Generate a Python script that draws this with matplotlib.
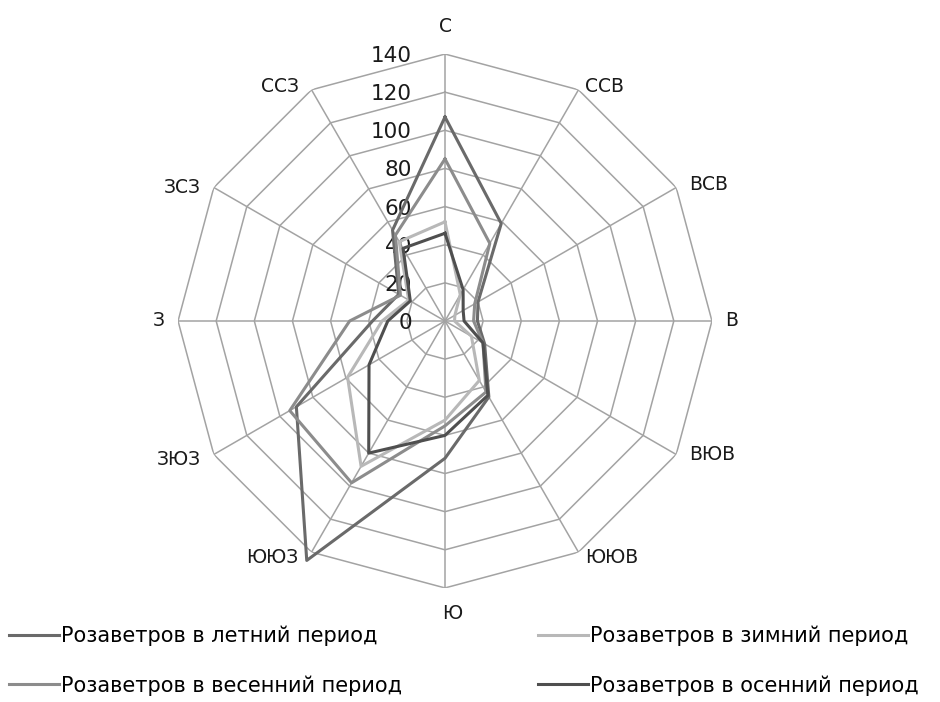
import numpy as np
import matplotlib.pyplot as plt

# Румбы (по часовой стрелке от севера)
directions = ['С', 'ССВ', 'ВСВ', 'В', 'ВЮВ', 'ЮЮВ', 'Ю', 'ЮЮЗ', 'ЗЮЗ', 'З', 'ЗСЗ', 'ССЗ']

summer = [107, 59, 20, 17, 24, 46, 72, 145, 90, 38, 28, 55]
winter = [52, 16, 6, 5, 16, 36, 52, 88, 59, 33, 22, 48]
spring = [85, 47, 18, 15, 23, 43, 55, 98, 94, 50, 27, 52]
autumn = [46, 19, 11, 10, 23, 45, 60, 80, 46, 30, 21, 44]

labels = ['Розаветров в летний период', 'Розаветров в зимний период',
          'Розаветров в весенний период', 'Розаветров в осенний период']
colors = ['#6a6a6a', '#b8b8b8', '#8c8c8c', '#4f4f4f']

r_ticks = [0, 20, 40, 60, 80, 100, 120, 140]

n = len(directions)
theta = np.linspace(0, 2 * np.pi, n, endpoint=False)
theta_closed = np.append(theta, theta[0])

fig = plt.figure(figsize=(9.4, 7.02), dpi=100)
ax = fig.add_axes([0.1894, 0.1624, 0.568, 0.7607], projection='polar')
ax.set_theta_zero_location('N')
ax.set_theta_direction(-1)
ax.set_ylim(0, r_ticks[-1])
ax.grid(False)
ax.spines['polar'].set_visible(False)
ax.set_xticks([])
ax.set_yticks([])

grid_color = '#a3a3a3'
# многоугольная сетка
for r in r_ticks[1:]:
    ax.plot(theta_closed, [r] * (n + 1), color=grid_color, lw=1.1, zorder=1)
for t in theta:
    ax.plot([t, t], [0, r_ticks[-1]], color=grid_color, lw=1.1, zorder=1)

# подписи шкалы слева от северной оси
for r in r_ticks:
    ax.annotate(str(r), xy=(0, r), xytext=(-33, -2), textcoords='offset pixels',
                ha='right', va='center', fontsize=15.5, color='#1a1a1a')

# подписи румбов
for t, name in zip(theta, directions):
    s, c = np.sin(t), np.cos(t)
    if abs(s) < 0.1:
        ha = 'center'
        dx = 1 if c > 0 else 7
        dy = 18 if c > 0 else -16
        va = 'bottom' if c > 0 else 'top'
    else:
        ha = 'left' if s > 0 else 'right'
        if s > 0:
            dx = 7 if abs(c) > 0.8 else 13
        else:
            dx = -13
        dy = 3 if c > 0.5 else (-5 if c < -0.5 else 0)
        va = 'center'
    ax.annotate(name, xy=(t, r_ticks[-1]), xytext=(dx, dy), textcoords='offset pixels',
                ha=ha, va=va, fontsize=13.5, color='#1a1a1a', annotation_clip=False)

series = [summer, winter, spring, autumn]
lines = []
for vals, col, lab in zip(series, colors, labels):
    v = np.append(vals, vals[0])
    ln, = ax.plot(theta_closed, v, color=col, lw=2.2, label=lab, clip_on=False, zorder=3)
    lines.append(ln)

# легенда: две колонки по две серии
leg_kw = dict(loc='upper left', frameon=False, fontsize=15, handlelength=2.4,
              handletextpad=0.1, labelspacing=1.4, borderpad=0, borderaxespad=0)
fig.legend([lines[0], lines[2]], [labels[0], labels[2]],
           bbox_to_anchor=(0.010, 0.109), **leg_kw)
fig.legend([lines[1], lines[3]], [labels[1], labels[3]],
           bbox_to_anchor=(0.572, 0.109), **leg_kw)

fig.savefig('out.png', dpi=100)
